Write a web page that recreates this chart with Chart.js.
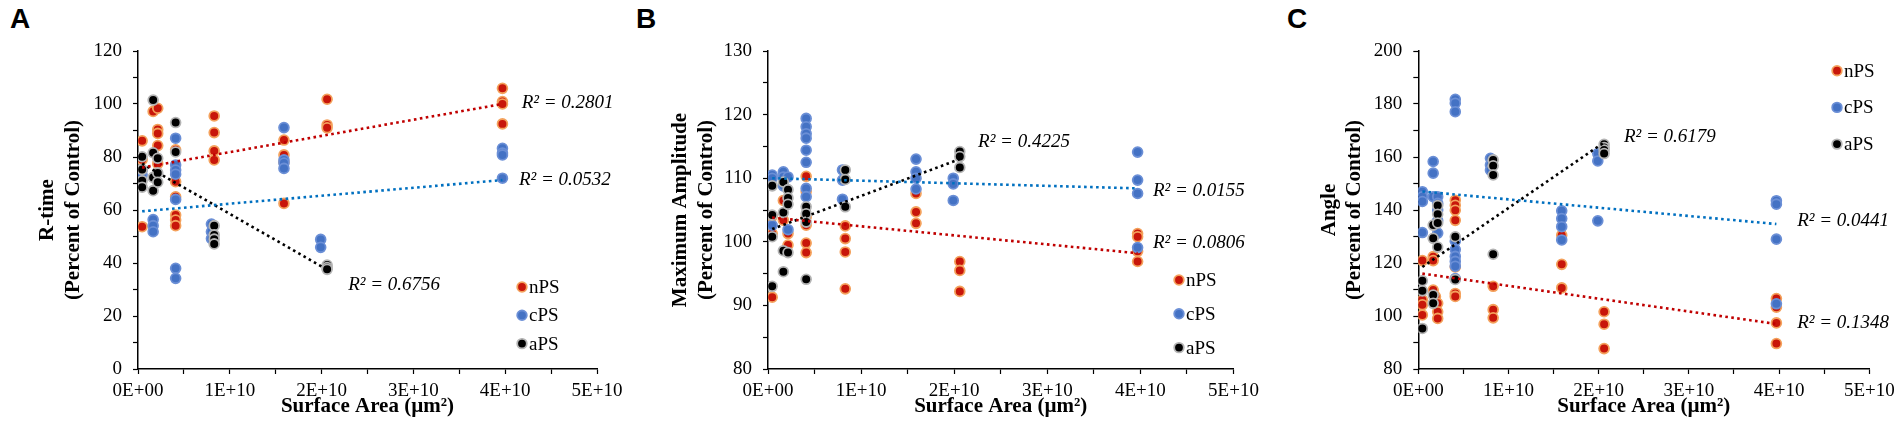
<!DOCTYPE html>
<html>
<head>
<meta charset="utf-8">
<script src="https://cdn.jsdelivr.net/npm/chart.js@4/dist/chart.umd.min.js"></script>
<style>
  html, body { margin: 0; padding: 0; background: #fff; width: 1902px; height: 425px; overflow: hidden; }
  .panel { position: absolute; top: 0; height: 425px; }
  .letter { position: absolute; top: 3px; font: bold 28px "Liberation Sans", Arial, sans-serif; color: #000; }
</style>
</head>
<body>
<div class="letter" style="left:10px">A</div>
<div class="letter" style="left:636px">B</div>
<div class="letter" style="left:1287px">C</div>
<div class="panel" style="left:0;width:640px"><canvas id="chartA"></canvas></div>
<div class="panel" style="left:640px;width:630px"><canvas id="chartB"></canvas></div>
<div class="panel" style="left:1270px;width:632px"><canvas id="chartC"></canvas></div>
<script>
// x values in units of 1E+10 µm²
const seriesNames = ["nPS", "cPS", "aPS"];

// Panel A: R-time
const rtime_nPS = [[0.045,86.1],[0.045,53.7],[0.045,79],
  [0.165,97.2],[0.215,98.4],[0.215,90.4],[0.215,88.9],[0.215,84.3],[0.215,77.5],
  [0.41,82.7],[0.41,70.7],[0.41,65],[0.41,58.1],[0.41,56.2],[0.41,54.1],
  [0.83,95.5],[0.83,89.2],[0.83,82.3],[0.83,78.9],
  [1.59,86.4],[1.59,80.8],[1.59,78],[1.59,62.5],
  [2.06,101.8],[2.06,92.1],[2.06,91],
  [3.97,105.9],[3.97,100.9],[3.97,100],[3.97,92.5]];
const rtime_cPS = [[0.045,73.2],[0.045,75],[0.165,56.4],[0.165,54.1],[0.165,51.8],
  [0.41,87.1],[0.41,77],[0.41,75.1],[0.41,73.5],[0.41,64],[0.41,38],[0.41,34.2],
  [0.80,54.7],[0.80,51.8],[0.80,49.2],
  [1.59,91.1],[1.59,78.9],[1.59,77.7],[1.59,75.7],
  [1.99,48.9],[1.99,45.9],
  [3.97,83.3],[3.97,81.5],[3.97,80.8],[3.97,72]];
const rtime_aPS = [[0.045,80.1],[0.045,75.3],[0.045,71],[0.045,68.6],
  [0.165,101.5],[0.165,81.6],[0.165,72.3],[0.165,67.3],[0.215,79.5],[0.215,74],[0.215,70.5],
  [0.41,93],[0.41,81.9],
  [0.83,54.1],[0.83,50.6],[0.83,49],[0.83,47.2],
  [2.06,39.2],[2.06,38.3],[2.06,37.6]];
const rtime_trend = [[[0.045,76],[3.97,100]], [[0.045,59.5],[3.97,71.3]], [[0.045,77.5],[2.06,37.5]]];
const rtime_r2 = ["R² = 0.2801", "R² = 0.0532", "R² = 0.6756"];

// Panel B: Maximum Amplitude
const amp_nPS = [[0.045,91.3],[0.045,101.3],[0.045,104],
  [0.165,106.5],[0.165,103.4],[0.215,101.3],[0.215,99.5],
  [0.41,110.3],[0.41,107.9],[0.41,103.9],[0.41,102.6],[0.41,99.8],[0.41,98.3],
  [0.83,102.5],[0.83,100.5],[0.83,98.4],[0.83,92.6],
  [1.59,107.6],[1.59,104.7],[1.59,102.9],
  [2.06,96.9],[2.06,95.5],[2.06,92.2],
  [3.97,101.3],[3.97,100.8],[3.97,98.5],[3.97,96.9]];
const amp_cPS = [[0.045,110.5],[0.045,110],[0.045,102.6],
  [0.165,111],[0.165,110.2],[0.165,108.8],[0.215,110.2],[0.215,101.9],
  [0.41,119.4],[0.41,118.1],[0.41,117],[0.41,116.3],[0.41,114.4],[0.41,112.5],[0.41,108.4],[0.41,107.1],
  [0.80,111.3],[0.80,109.7],[0.80,106.7],
  [1.59,113],[1.59,111],[1.59,110],[1.59,108.3],
  [1.99,110],[1.99,109.1],[1.99,106.5],
  [3.97,114.1],[3.97,109.7],[3.97,107.6],[3.97,99.1]];
const amp_aPS = [[0.045,108.8],[0.045,104.2],[0.045,100.8],[0.045,93],
  [0.165,109.4],[0.165,104.6],[0.165,98.6],[0.165,95.3],[0.215,108.2],[0.215,106.9],[0.215,105.9],[0.215,98.3],
  [0.41,105.5],[0.41,104.4],[0.41,103.1],[0.41,94.1],
  [0.83,111.3],[0.83,109.8],[0.83,105.5],
  [2.06,114.2],[2.06,113.4],[2.06,111.7]];
const amp_trend = [[[0.045,103.8],[3.97,98.2]], [[0.045,110],[3.97,108.4]], [[0.045,102],[2.06,113]]];
const amp_r2 = ["R² = 0.0806", "R² = 0.0155", "R² = 0.4225"];

// Panel C: Angle
const angle_nPS = [[0.045,120.9],[0.045,106.1],[0.045,104.2],[0.045,100.4],
  [0.165,122.4],[0.165,120.9],[0.165,109.8],[0.19,107.3],[0.215,104.8],[0.215,101.6],[0.215,99.1],
  [0.41,143.7],[0.41,141.8],[0.41,139.9],[0.41,136.1],[0.41,118.5],[0.41,108.5],[0.41,107.4],
  [0.83,111.2],[0.83,102.4],[0.83,99.3],
  [1.59,130.5],[1.59,119.5],[1.59,110.6],
  [2.06,101.6],[2.06,96.9],[2.06,87.7],
  [3.97,106.6],[3.97,103.3],[3.97,97.4],[3.97,89.6]];
const angle_cPS = [[0.045,146.9],[0.045,145],[0.045,143.2],[0.045,131.5],
  [0.165,158.3],[0.165,153.9],[0.165,145],[0.215,145],[0.215,142.5],[0.215,140],[0.215,136],[0.215,131.3],
  [0.41,181.8],[0.41,180.3],[0.41,177.1],[0.41,128.2],[0.41,125.1],[0.41,122.5],[0.41,120.6],[0.41,118.8],[0.41,114.1],
  [0.80,159.5],[0.80,157],[0.80,155],
  [1.59,139.7],[1.59,136.8],[1.59,133.7],[1.59,128.7],
  [1.99,161.3],[1.99,158.5],[1.99,135.9],
  [3.97,143.5],[3.97,142.2],[3.97,129],[3.97,104.6]];
const angle_aPS = [[0.045,113.3],[0.045,109.5],[0.045,95.3],
  [0.165,134.3],[0.165,129.3],[0.165,107.9],[0.165,104.8],[0.215,141.7],[0.215,138.4],[0.215,135.1],[0.215,126],
  [0.41,129.9],[0.41,113.8],
  [0.83,158.9],[0.83,156.7],[0.83,153.2],[0.83,123.3],
  [2.06,164.8],[2.06,163.6],[2.06,162.6],[2.06,161.3]];
const angle_trend = [[[0.045,116],[3.97,97]], [[0.045,147],[3.97,134.7]], [[0.045,118.5],[2.06,165.5]]];
const angle_r2 = ["R² = 0.1348", "R² = 0.0441", "R² = 0.6179"];

// styles
const fills = ["#C8160A", "#4472C4", "#000000"];
const rings = ["#F4A15C", "#6B8FD6", "#B4B4B4"];
const trendColors = ["#C00000", "#0070C0", "#000000"];
const serif = '"Liberation Serif", "Times New Roman", serif';

const toPts = (arr) => arr.map(([x, y]) => ({ x: x * 1e10, y: y }));

// R² labels + in-plot legend
const extras = {
  id: "extras",
  afterDatasetsDraw(chart, args, opts) {
    const { ctx, chartArea } = chart;
    const sx = chart.scales.x, sy = chart.scales.y;
    ctx.save();
    ctx.fillStyle = "#000";
    ctx.textBaseline = "middle";
    ctx.textAlign = "left";
    ctx.font = "italic 19px " + serif;
    opts.r2.forEach((l) => {
      ctx.fillText(l.text, sx.getPixelForValue(l.x * 1e10), sy.getPixelForValue(l.y));
    });
    ctx.font = "19px " + serif;
    seriesNames.forEach((name, i) => {
      const px = chartArea.left + opts.legend.x;
      const py = chartArea.top + opts.legend.y + i * opts.legend.gap;
      ctx.beginPath();
      ctx.arc(px, py, 4.8, 0, Math.PI * 2);
      ctx.fillStyle = fills[i];
      ctx.fill();
      ctx.lineWidth = 1.8;
      ctx.strokeStyle = rings[i];
      ctx.stroke();
      ctx.fillStyle = "#000";
      ctx.fillText(name, px + 7, py + 1);
    });
    ctx.restore();
  },
};

function makePanel(id, p) {
  const datasets = [];
  p.series.forEach((s, i) => {
    datasets.push({
      label: seriesNames[i],
      data: toPts(s),
      backgroundColor: fills[i],
      borderColor: rings[i],
      pointRadius: 4.9,
      pointBorderWidth: 1.8,
      order: 3 - i,
    });
  });
  p.trend.forEach((t, i) => {
    datasets.push({
      label: seriesNames[i] + " trend",
      data: toPts(t),
      showLine: true,
      pointRadius: 0,
      borderColor: trendColors[i],
      borderWidth: 2.6,
      borderDash: [2.6, 3.4],
      fill: false,
      order: -1,
    });
  });

  return new Chart(document.getElementById(id), {
    type: "scatter",
    data: { datasets },
    options: {
      responsive: true,
      maintainAspectRatio: false,
      animation: false,
      layout: { padding: { left: p.padLeft, right: p.padRight, top: 51, bottom: 5.4 } },
      scales: {
        x: {
          type: "linear",
          min: 0,
          max: 5e10,
          afterFit: (scale) => { scale.height = 50.6; },
          border: { display: true, color: "#000", width: 1.5 },
          grid: { display: true, drawOnChartArea: false, drawTicks: true, tickLength: 5, tickColor: "#000", tickWidth: 1.2 },
          ticks: {
            stepSize: 0.5e10,
            autoSkip: false,
            maxRotation: 0,
            padding: 6,
            color: "#000",
            font: { family: serif, size: 19 },
            callback: (v) => {
              if (Math.abs(v % 1e10) > 1) return "";
              return v === 0 ? "0E+00" : Math.round(v / 1e10) + "E+10";
            },
          },
          title: {
            display: true,
            text: "Surface Area (µm²)",
            color: "#000",
            padding: { top: 0, bottom: 0 },
            font: { family: serif, size: 21, weight: "bold" },
          },
        },
        y: {
          min: p.yMin,
          max: p.yMax,
          afterFit: (scale) => { scale.width = p.yWidth; },
          border: { display: true, color: "#000", width: 1.5 },
          grid: { display: true, drawOnChartArea: false, drawTicks: true, tickLength: 5, tickColor: "#000", tickWidth: 1.2 },
          ticks: {
            stepSize: p.yMinor,
            autoSkip: false,
            padding: 11,
            color: "#000",
            font: { family: serif, size: 19 },
            callback: (v) => ((v - p.yMin) % p.yMajor === 0 ? String(v) : ""),
          },
          title: {
            display: true,
            text: p.yTitle,
            color: "#000",
            padding: { top: 0, bottom: 0 },
            font: { family: serif, size: 21, weight: "bold" },
          },
        },
      },
      plugins: {
        legend: { display: false },
        tooltip: { enabled: false },
        extras: { r2: p.r2, legend: p.legend },
      },
    },
    plugins: [extras],
  });
}

makePanel("chartA", {
  series: [rtime_nPS, rtime_cPS, rtime_aPS],
  trend: rtime_trend,
  yMin: 0, yMax: 120, yMinor: 10, yMajor: 20,
  yTitle: ["R-time", "(Percent of Control)"],
  padLeft: 35.4, yWidth: 102.6, padRight: 43,
  legend: { x: 384, y: 236, gap: 28.3 },
  r2: [
    { text: rtime_r2[0], x: 4.18, y: 100.4 },
    { text: rtime_r2[1], x: 4.15, y: 71.5 },
    { text: rtime_r2[2], x: 2.29, y: 31.7 },
  ],
});

makePanel("chartB", {
  series: [amp_nPS, amp_cPS, amp_aPS],
  trend: amp_trend,
  yMin: 80, yMax: 130, yMinor: 5, yMajor: 10,
  yTitle: ["Maximum Amplitude", "(Percent of Control)"],
  padLeft: 28.4, yWidth: 99.6, padRight: 36.5,
  legend: { x: 411, y: 229, gap: 33.8 },
  r2: [
    { text: amp_r2[0], x: 4.135, y: 99.8 },
    { text: amp_r2[1], x: 4.135, y: 108 },
    { text: amp_r2[2], x: 2.256, y: 115.7 },
  ],
});

makePanel("chartC", {
  series: [angle_nPS, angle_cPS, angle_aPS],
  trend: angle_trend,
  yMin: 80, yMax: 200, yMinor: 10, yMajor: 20,
  yTitle: ["Angle", "(Percent of Control)"],
  padLeft: 46.7, yWidth: 101.6, padRight: 32.7,
  legend: { x: 418.7, y: 19.7, gap: 36.7 },
  r2: [
    { text: angle_r2[0], x: 4.2, y: 97.4 },
    { text: angle_r2[1], x: 4.2, y: 135.8 },
    { text: angle_r2[2], x: 2.28, y: 167.5 },
  ],
});
</script>
</body>
</html>
